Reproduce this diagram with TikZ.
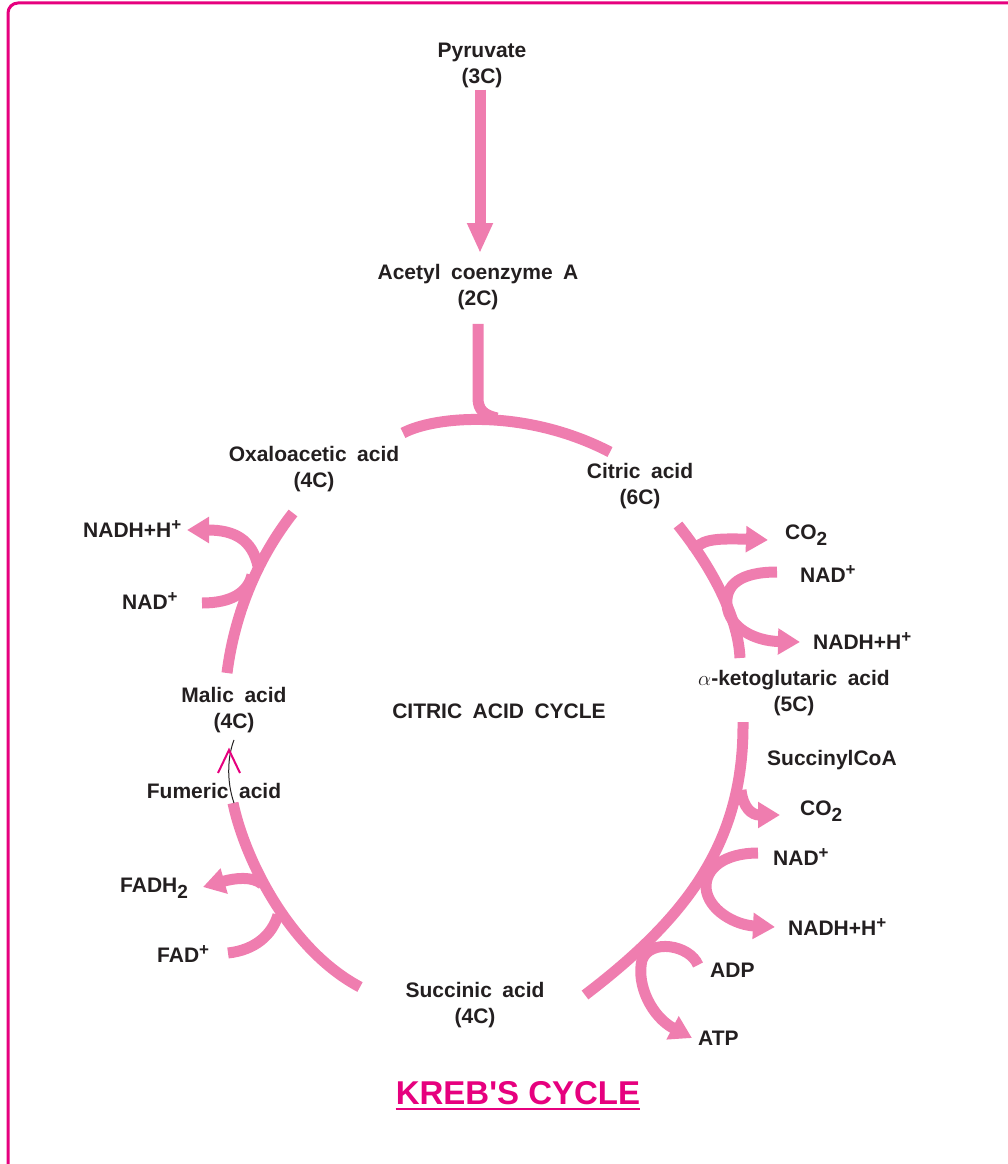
\documentclass[tikz,border=0pt]{standalone}
\usepackage{fontspec}
\setmainfont{Liberation Sans}
\usetikzlibrary{arrows.meta}
\definecolor{kpink}{RGB}{239,125,175}
\definecolor{kmag}{RGB}{230,0,126}
\definecolor{ink}{RGB}{35,31,32}
\newcommand\lblfont{\fontsize{21}{26}\selectfont\bfseries\spaceskip=0.5em\relax}
\newcommand\ionplus{\raisebox{0.33em}{\fontsize{17}{17}\selectfont +}}
\newcommand\subtwo{\raisebox{-0.3em}{\fontsize{19}{19}\selectfont 2}}

\begin{document}
\begin{tikzpicture}[
  x=1pt, y=-1pt,
  every node/.style={font=\lblfont, text=ink, inner sep=2pt},
  lbl/.style={align=center},
  side/.style={anchor=base west},
  flow/.style={draw=kpink, line width=11pt},
  yield/.style={flow, -{Triangle[length=22pt,width=25pt]}},
]
  \useasboundingbox (0,0) rectangle (1008,1164);
  \clip (0,0) rectangle (1008,1164);
  \draw[kmag, line width=3pt, rounded corners=10pt] (8,3) rectangle (1030,1200);

  % Compounds of the cycle
  \node[lbl] (pyr) at (482,65) {Pyruvate\\(3C)};
  \node[lbl] (acoa) at (478,287) {Acetyl coenzyme A\\(2C)};
  \node[lbl] (oxa) at (314,469) {Oxaloacetic acid\\(4C)};
  \node[lbl] (cit) at (640,486) {Citric acid\\(6C)};
  \node[lbl] (akg) at (794,693) {$\alpha$-ketoglutaric acid\\(5C)};
  \node[lbl] (mal) at (234,710) {Malic acid\\(4C)};
  \node[lbl] (suc) at (475,1005) {Succinic acid\\(4C)};
  \node (cac) at (499,711) {CITRIC ACID CYCLE};
  \node[anchor=base] (fum) at (214,798) {Fumeric acid};
  \node[side] (sco) at (765,765) {SuccinylCoA};

  % Side products
  \node[side] (co2a) at (783,539) {CO\subtwo};
  \node[side] (nada) at (798,582) {NAD\ionplus};
  \node[side] (nadha) at (811,649) {NADH+H\ionplus};
  \node[side] (co2b) at (798,815) {CO\subtwo};
  \node[side] (nadb) at (771,865) {NAD\ionplus};
  \node[side] (nadhb) at (786,935) {NADH+H\ionplus};
  \node[side] (adp) at (708,977) {ADP};
  \node[side] (atp) at (696,1045) {ATP};
  \node[side] (nadhc) at (81,537) {NADH+H\ionplus};
  \node[side] (nadc) at (120,609) {NAD\ionplus};
  \node[side] (fadh) at (118,892) {FADH\subtwo};
  \node[side] (fad) at (155,962) {FAD\ionplus};

  % Entry
  \draw[draw=kpink, line width=11pt, -{Triangle[length=30pt,width=24pt]}]
    ([xshift=-2pt]pyr.south) -- ([yshift=9pt,xshift=-2pt]pyr.south |- acoa.north);
  \draw[flow] ([yshift=-12pt]acoa.south) -- (478,398)
    .. controls (478,410) and (484,415) .. (497,418);
  \draw[flow] (403,433) .. controls (435,416) and (525,408) .. (610,452);

  % Citric acid -> alpha-ketoglutaric acid
  \draw[flow] (678,525) .. controls (710,565) and (738,615) .. (740,658);
  \draw[yield] (693,552) .. controls (700,540) and (712,538) .. (768,540);
  \draw[yield] (777,572) .. controls (740,572) and (725,585) .. (727,605)
    .. controls (729,628) and (755,641) .. (800,642);

  % alpha-ketoglutaric acid -> Succinic acid
  \draw[flow] (743,722) .. controls (744,840) and (690,915) .. (585,995);
  \draw[yield] (741,790) .. controls (743,808) and (752,815) .. (780,815);
  \draw[yield] (758,853) .. controls (725,853) and (705,868) .. (706,888)
    .. controls (708,910) and (735,925) .. (775,927);
  \draw[yield] (698,965) .. controls (690,945) and (650,938) .. (642,960)
    .. controls (636,985) and (652,1017) .. (692,1038);

  % Succinic acid -> Fumeric acid
  \draw[flow] (360,987) .. controls (290,950) and (245,860) .. (233,803);
  \draw[yield] (262,884) .. controls (252,876) and (235,878) .. (203,887);
  \draw[flow] (228,953) .. controls (255,950) and (272,935) .. (278,915);

  % Fumeric acid -> Malic acid
  \coordinate (fumtop) at (234,803);
  \draw[ink, line width=1pt] (fumtop) .. controls (226,780) and (228,755)
    .. ([yshift=-5pt]mal.south);
  \draw[kmag, line width=2pt] (218,773) -- (229,750) -- (240,773);

  % Malic acid -> Oxaloacetic acid
  \draw[flow] (227,673) .. controls (235,610) and (260,555) .. (293,513);
  \draw[yield] (258,566) .. controls (252,540) and (235,530) .. (187,530);
  \draw[flow] (202,603) .. controls (232,603) and (248,592) .. (252,575);

  % Title
  \node[font=\fontsize{33}{36}\selectfont\bfseries, text=kmag, anchor=base,
        inner sep=0pt] (title) at (518,1104) {KREB\textquotesingle S CYCLE};
  \draw[kmag, line width=2pt] ([yshift=-5pt]title.base west)
    -- ([yshift=-5pt]title.base east);
\end{tikzpicture}
\end{document}
